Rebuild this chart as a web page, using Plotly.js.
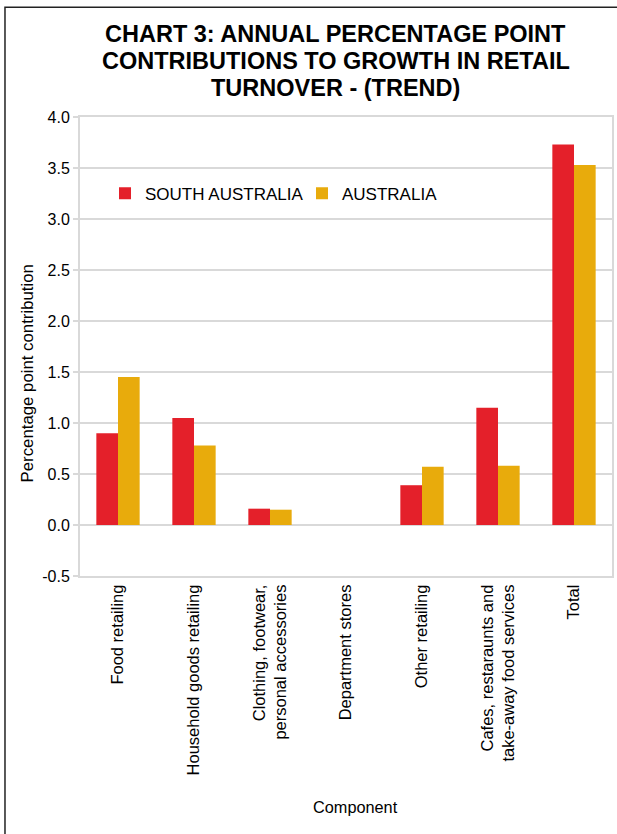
<!DOCTYPE html>
<html>
<head>
<meta charset="utf-8">
<script src="https://cdn.plot.ly/plotly-3.0.1.min.js"></script>
<style>
  html, body { margin: 0; padding: 0; background: #fff; }
  #chart { width: 617px; height: 834px; }
</style>
</head>
<body>
<div id="chart"></div>
<script>
// ---- data ----
const categories = [
  "Food retailing",
  "Household goods retailing",
  "Clothing, footwear, personal accessories",
  "Department stores",
  "Other retailing",
  "Cafes, restaraunts and take-away food services",
  "Total"
];
const tickLabels = [
  "Food retailing",
  "Household goods retailing",
  "Clothing, footwear,<br>personal accessories",
  "Department stores",
  "Other retailing",
  "Cafes, restaraunts and<br>take-away food services",
  "Total"
];
const southAustralia = [0.90, 1.05, 0.16, 0.00, 0.39, 1.15, 3.73];
const australia      = [1.45, 0.78, 0.15, 0.00, 0.57, 0.58, 3.53];
const seriesNames = ["SOUTH AUSTRALIA", "AUSTRALIA"];
const titleLines = [
  "CHART 3: ANNUAL PERCENTAGE POINT",
  "CONTRIBUTIONS TO GROWTH IN RETAIL",
  "TURNOVER - (TREND)"
];
const yTickVals = [-0.5, 0, 0.5, 1, 1.5, 2, 2.5, 3, 3.5, 4];
const yTickText = ["-0.5", "0.0", "0.5", "1.0", "1.5", "2.0", "2.5", "3.0", "3.5", "4.0"];

const FONT = '"Liberation Sans", Arial, sans-serif';
const GRID = '#d9d9d9';

const traces = [
  { type: 'bar', name: seriesNames[0], x: categories, y: southAustralia,
    marker: { color: '#e4202a' }, hoverinfo: 'x+y' },
  { type: 'bar', name: seriesNames[1], x: categories, y: australia,
    marker: { color: '#e8ab0c' }, hoverinfo: 'x+y' }
];

// title lines placed with Excel-like tighter line spacing
const titleY = [1.180, 1.122, 1.064];
const titleAnns = titleLines.map((t, i) => ({
  text: '<b>' + t + '</b>',
  xref: 'paper', yref: 'paper', x: 0.481, y: titleY[i],
  xanchor: 'center', yanchor: 'middle', showarrow: false,
  font: { family: FONT, size: 23.5, color: '#000' }
}));

const layout = {
  width: 617, height: 834,
  margin: { l: 80, r: 5, t: 117, b: 258 },
  paper_bgcolor: '#fff', plot_bgcolor: '#fff',
  font: { family: FONT, size: 16, color: '#000' },
  barmode: 'group',
  bargap: 0.43,
  bargroupgap: 0,
  showlegend: true,
  legend: {
    orientation: 'h', x: 0.047, xanchor: 'left', y: 0.833, yanchor: 'middle',
    font: { family: FONT, size: 17, color: '#000' },
    bgcolor: 'rgba(0,0,0,0)', borderwidth: 0, itemwidth: 30, traceorder: 'normal',
    entrywidth: 152, entrywidthmode: 'pixels'
  },
  xaxis: {
    type: 'category',
    tickvals: categories, ticktext: tickLabels,
    tickangle: -90,
    tickfont: { family: FONT, size: 16.5, color: '#000' },
    showline: true, linecolor: GRID, linewidth: 2, mirror: true,
    showgrid: false, ticks: '', automargin: false
  },
  yaxis: {
    range: [-0.5, 4.0],
    tickvals: yTickVals, ticktext: yTickText,
    tickfont: { family: FONT, size: 16, color: '#000' },
    showgrid: true, gridcolor: GRID, gridwidth: 1.5,
    zeroline: true, zerolinecolor: GRID, zerolinewidth: 2,
    showline: true, linecolor: GRID, linewidth: 2, mirror: true,
    ticks: 'outside', ticklen: 5, tickcolor: GRID, tickwidth: 1.5,
    automargin: false
  },
  annotations: titleAnns.concat([
    { text: 'Percentage point contribution', textangle: -90,
      xref: 'paper', yref: 'paper', x: -0.098, y: 0.441,
      xanchor: 'center', yanchor: 'middle', showarrow: false,
      font: { family: FONT, size: 16.8, color: '#000' } },
    { text: 'Component',
      xref: 'paper', yref: 'paper', x: 0.517, y: -0.504,
      xanchor: 'center', yanchor: 'middle', showarrow: false,
      font: { family: FONT, size: 16.3, color: '#000' } }
  ]),
  shapes: [
    { type: 'rect', xref: 'paper', yref: 'paper',
      x0: -0.141, x1: 1.2, y0: -0.7, y1: 1.239,
      line: { color: '#222', width: 1.5 }, fillcolor: 'rgba(0,0,0,0)', layer: 'above' }
  ]
};

Plotly.newPlot('chart', traces, layout, { displayModeBar: false, staticPlot: true });
</script>
</body>
</html>
